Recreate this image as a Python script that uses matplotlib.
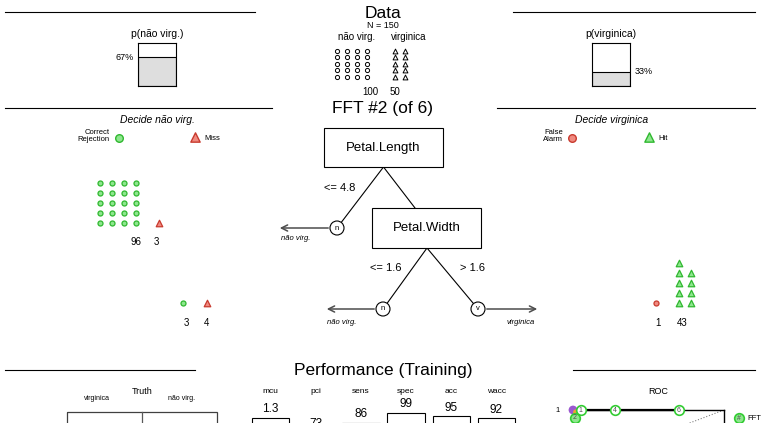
import math
import matplotlib
matplotlib.use('Agg')
import matplotlib.pyplot as plt
from matplotlib.patches import Rectangle, Circle

plt.rcParams['font.family'] = ['Liberation Sans', 'DejaVu Sans']

# Data summary
n_total = 150
classes = ['não virg.', 'virginica']
class_n = [100, 50]
p_labels = ['p(não virg.)', 'p(virginica)']
p_values = [0.67, 0.33]

# Tree structure
cues = ['Petal.Length', 'Petal.Width']
thresholds = ['<= 4.8', '<= 1.6', '> 1.6']
exit_labels = ['não virg.', 'não virg.', 'virginica']

# Exit counts: correct / incorrect decisions per leaf
leaf_correct = [96, 3, 43]
leaf_wrong = [3, 4, 1]

# Performance
metric_names = ['mcu', 'pci', 'sens', 'spec', 'acc', 'wacc']
metric_values = [1.3, 73, 86, 99, 95, 92]
truth_labels = ['virginica', 'não virg.']

# ROC of all trees (far, sens)
roc_trees = [2, 1, 4, 6]
roc_far = [0.01, 0.05, 0.28, 0.70]
roc_sens = [0.86, 1.0, 1.0, 1.0]
alg_far = [0.0, 0.02]
alg_sens = [1.0, 0.96]
alg_colors = ['#9b59d0', '#f0a030']

W, H = 761, 423
PER_ICON = 5

GREEN_E, GREEN_F = '#2fb82f', '#8ee68e'
RED_E, RED_F = '#c83a2e', '#f08a80'

fig = plt.figure(figsize=(W / 100, H / 100), dpi=100)
ax = fig.add_axes([0, 0, 1, 1])
ax.set_xlim(0, W)
ax.set_ylim(H, 0)
ax.axis('off')


def px_axes(x0, y0, x1, y1):
    return fig.add_axes([x0 / W, 1 - y1 / H, (x1 - x0) / W, (y1 - y0) / H])


def hline(x0, x1, y):
    ax.plot([x0, x1], [y, y], color='black', lw=0.8)


def icons(n, x0, ybottom, dx, dy, **kw):
    # one icon per PER_ICON cases, stacked bottom-up in columns of 5
    k = math.ceil(n / PER_ICON)
    xs = [x0 + (i // 5) * dx for i in range(k)]
    ys = [ybottom - (i % 5) * dy for i in range(k)]
    ax.scatter(xs, ys, **kw)


# ---- header row ----
hline(5, 255, 12)
hline(513, 755, 12)
ax.text(383, 13, 'Data', ha='center', va='center', fontsize=12.5)
ax.text(383, 25, f'N = {n_total}', ha='center', va='center', fontsize=6.5)
ax.text(357, 37, classes[0], ha='center', va='center', fontsize=7)
ax.text(409, 37, classes[1], ha='center', va='center', fontsize=7)

icons(class_n[0], 337, 77, 10, 6.5, marker='o', s=9, facecolors='white',
      edgecolors='black', linewidths=0.7)
icons(class_n[1], 395, 77, 10, 6.5, marker='^', s=12, facecolors='white',
      edgecolors='black', linewidths=0.7)
ax.text(370, 92, str(class_n[0]), ha='center', va='center', fontsize=7)
ax.text(395, 92, str(class_n[1]), ha='center', va='center', fontsize=7)

# class probability boxes
for (bx, lab, val, side) in [(138, p_labels[0], p_values[0], 'left'),
                             (592, p_labels[1], p_values[1], 'right')]:
    pax = px_axes(bx, 43, bx + 38, 86)
    pax.bar(0, val, width=1, color='#dedede', edgecolor='black', lw=0.8)
    pax.set_xlim(-0.5, 0.5)
    pax.set_ylim(0, 1)
    pax.set_xticks([])
    pax.set_yticks([])
    for sp in pax.spines.values():
        sp.set_linewidth(0.8)
    if side == 'left':
        pax.text(-0.62, val, f'{val:.0%}', ha='right', va='center', fontsize=6.5)
    else:
        pax.text(0.62, val, f'{val:.0%}', ha='left', va='center', fontsize=6.5)
    pax.text(0, 1.1, lab, ha='center', va='bottom', fontsize=7.5,
             transform=pax.transData)

# ---- tree row ----
hline(5, 272, 108)
hline(497, 755, 108)
ax.text(383, 108, 'FFT #2 (of 6)', ha='center', va='center', fontsize=12.5)

ax.text(157, 120, 'Decide não virg.', ha='center', va='center', fontsize=7.5,
        style='italic')
ax.text(612, 120, 'Decide virginica', ha='center', va='center', fontsize=7.5,
        style='italic')
ax.text(110, 136, 'Correct\nRejection', ha='right', va='center', fontsize=5.5,
        linespacing=1.1)
ax.scatter([119], [138], marker='o', s=30, facecolors=GREEN_F,
           edgecolors=GREEN_E, linewidths=1)
ax.scatter([195], [137], marker='^', s=45, facecolors=RED_F,
           edgecolors=RED_E, linewidths=1)
ax.text(204, 138, 'Miss', ha='left', va='center', fontsize=5.5)
ax.text(563, 136, 'False\nAlarm', ha='right', va='center', fontsize=5.5,
        linespacing=1.1)
ax.scatter([572], [138], marker='o', s=30, facecolors=RED_F,
           edgecolors=RED_E, linewidths=1)
ax.scatter([649], [137], marker='^', s=45, facecolors=GREEN_F,
           edgecolors=GREEN_E, linewidths=1)
ax.text(658, 138, 'Hit', ha='left', va='center', fontsize=5.5)

# leaf icon arrays
green_o = dict(marker='o', s=13, facecolors=GREEN_F, edgecolors=GREEN_E, linewidths=0.9)
red_o = dict(marker='o', s=13, facecolors=RED_F, edgecolors=RED_E, linewidths=0.9)
green_t = dict(marker='^', s=22, facecolors=GREEN_F, edgecolors=GREEN_E, linewidths=0.9)
red_t = dict(marker='^', s=22, facecolors=RED_F, edgecolors=RED_E, linewidths=0.9)

icons(leaf_correct[0], 100, 223, 12, 10, **green_o)
icons(leaf_wrong[0], 159, 223, 12, 10, **red_t)
ax.text(136, 242, str(leaf_correct[0]), ha='center', va='center', fontsize=7)
ax.text(156, 242, str(leaf_wrong[0]), ha='center', va='center', fontsize=7)

icons(leaf_correct[1], 183, 303, 12, 10, **green_o)
icons(leaf_wrong[1], 207, 303, 12, 10, **red_t)
ax.text(186, 323, str(leaf_correct[1]), ha='center', va='center', fontsize=7)
ax.text(207, 323, str(leaf_wrong[1]), ha='center', va='center', fontsize=7)

icons(leaf_wrong[2], 656, 303, 12, 10, **red_o)
icons(leaf_correct[2], 679, 303, 12, 10, **green_t)
ax.text(658, 323, str(leaf_wrong[2]), ha='center', va='center', fontsize=7)
ax.text(682, 323, str(leaf_correct[2]), ha='center', va='center', fontsize=7)

# tree diagram
tree_kw = dict(color='black', lw=0.8)
ax.plot([383.5, 337], [167, 228], **tree_kw)
ax.plot([383.5, 415], [167, 208], **tree_kw)
ax.plot([427, 383], [248, 309], **tree_kw)
ax.plot([427, 478], [248, 309], **tree_kw)
ax.add_patch(Rectangle((324, 128), 119, 39, fc='white', ec='black', lw=0.8, zorder=3))
ax.add_patch(Rectangle((372, 208), 109, 40, fc='white', ec='black', lw=0.8, zorder=3))
ax.text(383.5, 148, cues[0], ha='center', va='center', fontsize=9.5, zorder=4)
ax.text(426.5, 228, cues[1], ha='center', va='center', fontsize=9.5, zorder=4)
ax.text(340, 188, thresholds[0], ha='center', va='center', fontsize=8)
ax.text(386, 268, thresholds[1], ha='center', va='center', fontsize=8)
ax.text(473, 268, thresholds[2], ha='center', va='center', fontsize=8)

arrow_kw = dict(arrowstyle='->', color='0.3', lw=1.1, mutation_scale=11)
ax.annotate('', xy=(277, 228), xytext=(331, 228), arrowprops=arrow_kw)
ax.annotate('', xy=(324, 309), xytext=(377, 309), arrowprops=arrow_kw)
ax.annotate('', xy=(540, 309), xytext=(484, 309), arrowprops=arrow_kw)
for (nx, ny, letter) in [(337, 228, 'n'), (383, 309, 'n'), (478, 309, 'v')]:
    ax.add_patch(Circle((nx, ny), 7, fc='white', ec='black', lw=0.8, zorder=3))
    ax.text(nx, ny, letter, ha='center', va='center', fontsize=5.5, zorder=4)
ax.text(296, 239, exit_labels[0], ha='center', va='center', fontsize=5.5, style='italic')
ax.text(342, 322, exit_labels[1], ha='center', va='center', fontsize=5.5, style='italic')
ax.text(521, 322, exit_labels[2], ha='center', va='center', fontsize=5.5, style='italic')

# ---- performance row ----
hline(5, 195, 370)
hline(573, 755, 370)
ax.text(383, 370, 'Performance (Training)', ha='center', va='center', fontsize=12.5)

ax.text(142, 391, 'Truth', ha='center', va='center', fontsize=6.5)
ax.text(97, 399, truth_labels[0], ha='center', va='center', fontsize=5)
ax.text(182, 399, truth_labels[1], ha='center', va='center', fontsize=5)
ax.add_patch(Rectangle((67, 412), 150, 150, fc='none', ec='0.25', lw=0.9))
ax.plot([142, 142], [412, 562], color='0.35', lw=0.9)

# metric bars
bar_top, bar_bottom = 412, 489
max_ax = px_axes(248, bar_top, 519, bar_bottom)
fracs = [(5 - metric_values[0]) / 4] + [v / 100 for v in metric_values[1:]]
xpos = list(range(len(metric_names)))
max_ax.bar(xpos, fracs, width=0.83, color='white', edgecolor='black', lw=0.8)
max_ax.set_xlim(-0.5, len(metric_names) - 0.5)
max_ax.set_ylim(0, 1)
max_ax.axis('off')
for i, (name, val, fr) in enumerate(zip(metric_names, metric_values, fracs)):
    txt = f'{val:.1f}' if name == 'mcu' else f'{val:.0f}'
    max_ax.text(i, fr + 0.03, txt, ha='center', va='bottom', fontsize=8.5,
                clip_on=False)
    max_ax.text(i, 1.27, name, ha='center', va='center', fontsize=6,
                clip_on=False)

# ROC
ax.text(658, 392, 'ROC', ha='center', va='center', fontsize=6.5)
roc = px_axes(573, 410, 724, 467)
roc.set_xlim(0, 1)
roc.set_ylim(0, 1)
roc.set_xticks([])
roc.set_yticks([])
for sp in roc.spines.values():
    sp.set_linewidth(1.0)
roc.plot([0, 1], [0, 1], ls=':', color='0.5', lw=0.8)
roc.plot(roc_far, roc_sens, color='black', lw=1.6, clip_on=False, zorder=3)
roc.scatter(alg_far, alg_sens, s=[40, 18], c=alg_colors, clip_on=False, zorder=4,
            edgecolors='none')
for t, fa, se in zip(roc_trees, roc_far, roc_sens):
    sel = t == 2
    roc.scatter([fa], [se], s=48, facecolors=GREEN_F if sel else 'white',
                edgecolors='#33cc33', linewidths=1.2, clip_on=False, zorder=5)
    roc.text(fa, se, str(t), ha='center', va='center', fontsize=5,
             color='0.3', zorder=6, clip_on=False)
roc.text(-0.1, 1.0, '1', ha='center', va='center', fontsize=5.5)
ax.scatter([739], [418], s=48, facecolors=GREEN_F, edgecolors='#33cc33',
           linewidths=1.2, zorder=5)
ax.text(739, 418, '#', ha='center', va='center', fontsize=5, color='0.3', zorder=6)
ax.text(747, 419, 'FFT', ha='left', va='center', fontsize=5.5)

fig.savefig('out.png', dpi=100)
